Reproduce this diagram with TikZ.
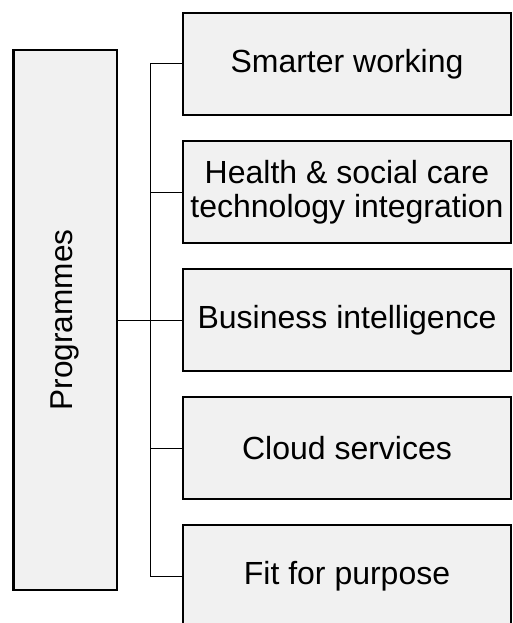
\documentclass[tikz,border=0pt]{standalone}
\usepackage{fontspec}
\setmainfont{Liberation Sans}
\begin{document}
\begin{tikzpicture}[x=1pt,y=-1pt,
  box/.style={draw=black, line width=2.5pt, fill=boxgray, inner sep=0pt, outer sep=0pt,
    minimum width=328pt, minimum height=102pt, align=center,
    font=\fontsize{32}{33.5}\selectfont},
  progbox/.style={draw=black, line width=2.5pt, fill=boxgray, inner sep=0pt, outer sep=0pt,
    minimum width=103.5pt, minimum height=540pt},
  conn/.style={draw=black, line width=1pt}]
\definecolor{boxgray}{HTML}{F1F1F1}
\useasboundingbox (0,0) rectangle (512,623);
\clip (0,0) rectangle (512,623);
\node[progbox] (prog) at (65.25,320) {};
\node[rotate=90, font=\fontsize{31.6}{36.5}\selectfont] (progtxt) at (prog.center) {Programmes};
\node[box] (b1) at (347,64) {Smarter working};
\node[box] (b2) at (347,192) {Health \& social care\\technology integration};
\node[box] (b3) at (347,320) {Business intelligence};
\node[box] (b4) at (347,448) {Cloud services};
\node[box] (b5) at (347,576) {Fit for purpose};
\draw[conn] (prog.east) -- (b3.west);
\draw[conn] (b1.west) -- ++(-33,0) coordinate (spinetop) |- (b5.west);
\draw[conn] (b2.west) -- ++(-33,0);
\draw[conn] (b4.west) -- ++(-33,0);
\end{tikzpicture}
\end{document}
